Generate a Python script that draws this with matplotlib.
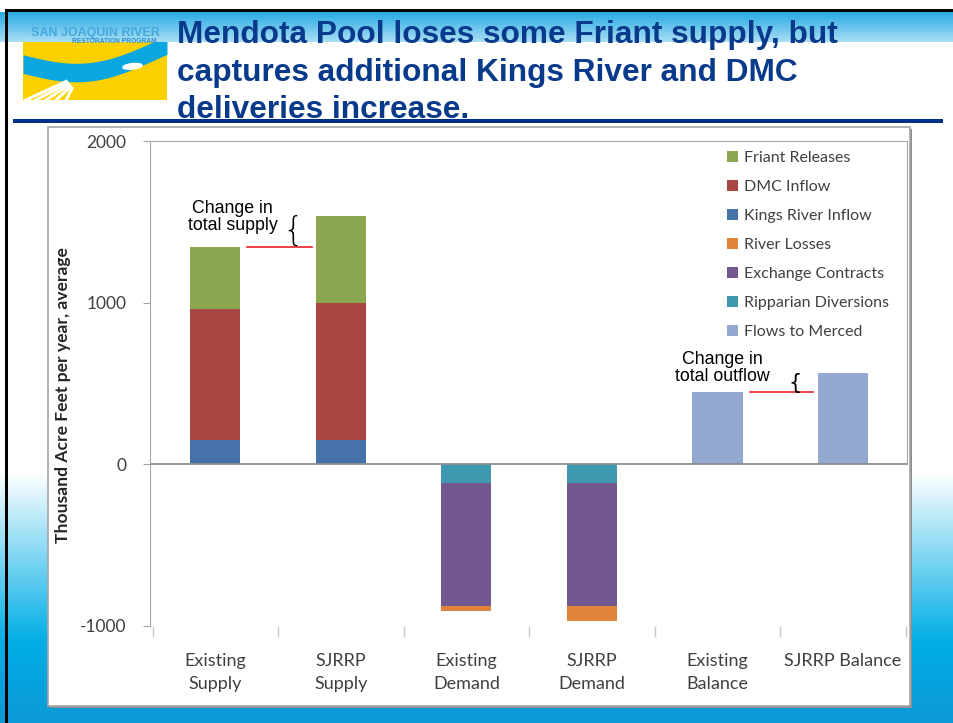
import numpy as np
import matplotlib
matplotlib.use("Agg")
import matplotlib.pyplot as plt
from matplotlib.patches import Rectangle, Ellipse

# data (thousand acre feet per year, average)
categories = ["Existing\nSupply", "SJRRP\nSupply", "Existing\nDemand",
              "SJRRP\nDemand", "Existing\nBalance", "SJRRP Balance"]
kings = [150, 150, 0, 0, 0, 0]
dmc = [810, 847, 0, 0, 0, 0]
friant = [384, 539, 0, 0, 0, 0]
ripparian = [0, 0, -117, -117, 0, 0]
exchange = [0, 0, -762, -762, 0, 0]
losses = [0, 0, -31, -93, 0, 0]
merced = [0, 0, 0, 0, 446, 563]

yticks = [-1000, 0, 1000, 2000]

colors = {
    "Friant Releases": "#8ba64f",
    "DMC Inflow": "#a94543",
    "Kings River Inflow": "#4572a8",
    "River Losses": "#e0843c",
    "Exchange Contracts": "#72588f",
    "Ripparian Diversions": "#3d98b0",
    "Flows to Merced": "#93a9d0",
}

W, H = 954, 723
fig = plt.figure(figsize=(W / 100, H / 100), dpi=100)

# slide background
img = np.ones((H, W, 3))
top_a = np.array([0.16, 0.67, 0.89])
top_b = np.array([0.66, 0.87, 0.96])
t = np.linspace(0, 1, 30)[:, None]
img[12:42, :, :] = (top_a * (1 - t) + top_b * t)[:, None, :]
blue = np.array([0.0, 0.68, 0.90])
t = np.linspace(0, 1, 170)[:, None]
img[472:642, :, :] = ((1 - t) * np.ones(3) + t * blue)[:, None, :]
dark = np.array([0.05, 0.60, 0.84])
t = np.linspace(0, 1, H - 642)[:, None]
img[642:, :, :] = ((1 - t) * blue + t * dark)[:, None, :]
img[9:12, 5:, :] = 0
img[9:, 5:8, :] = 0
bg = fig.add_axes([0, 0, 1, 1], zorder=-3)
bg.imshow(img, aspect="auto", extent=(0, W, H, 0))
bg.set_xlim(0, W)
bg.set_ylim(H, 0)
bg.axis("off")

# logo
logo = fig.add_axes([23 / W, 1 - 100 / H, 144 / W, 58 / H], zorder=-1)
logo.set_xlim(0, 1)
logo.set_ylim(0, 1)
logo.set_facecolor("#fdd100")
xx = np.linspace(0, 1, 100)
mid = 0.62 - 0.25 * np.sin(xx * np.pi * 1.1) + 0.25 * xx
logo.fill_between(xx, mid - 0.16, mid + 0.16, color="#0aa6e0", lw=0)
for k in range(5):
    logo.plot([0.02 + 0.07 * k, 0.3 + 0.01 * k], [0.0, 0.32 - 0.03 * k],
              color="white", lw=2.2)
logo.add_patch(Ellipse((0.76, 0.58), 0.14, 0.09, angle=25, color="white"))
logo.set_xticks([])
logo.set_yticks([])
for s in logo.spines.values():
    s.set_visible(False)
fig.text(95 / W, 1 - 36 / H, "SAN JOAQUIN RIVER", ha="center", va="baseline",
         fontsize=9, fontweight="bold", family="Liberation Sans", color="#45a8de")
fig.text(114 / W, 1 - 43 / H, "RESTORATION PROGRAM", ha="center", va="baseline",
         fontsize=4.8, fontweight="bold", family="Liberation Sans", color="#2e8fcf")

# title
title_lines = ["Mendota Pool loses some Friant supply, but",
               "captures additional Kings River and DMC",
               "deliveries increase."]
for i, line in enumerate(title_lines):
    fig.text(177 / W, 1 - (43 + 37.5 * i) / H, line, ha="left", va="baseline",
             fontsize=22.8, fontweight="bold", family="Liberation Sans",
             color="#083a8c")
fig.patches.append(Rectangle((13 / W, 1 - 123 / H), 930 / W, 4.5 / H,
                             transform=fig.transFigure, facecolor="#003087",
                             edgecolor="none", zorder=5))

# chart panel
fig.patches.append(Rectangle((50 / W, 1 - 708 / H), 862 / W, 579 / H,
                             transform=fig.transFigure, facecolor="#8c8c8c",
                             edgecolor="none", zorder=-2))
fig.patches.append(Rectangle((48 / W, 1 - 706 / H), 862 / W, 579 / H,
                             transform=fig.transFigure, facecolor="white",
                             edgecolor="#a6a6a6", lw=1.2, zorder=-2))

ax = fig.add_axes([150 / W, 1 - 625.5 / H, 757 / W, 484.5 / H])
ax.patch.set_alpha(0)
x = np.arange(len(categories))
bw = 0.4

kings_a = np.array(kings)
dmc_a = np.array(dmc)
rip_a = np.array(ripparian)
exc_a = np.array(exchange)

bars = {}
bars["Kings River Inflow"] = ax.bar(x, kings, bw, color=colors["Kings River Inflow"], lw=0)
bars["DMC Inflow"] = ax.bar(x, dmc, bw, bottom=kings_a, color=colors["DMC Inflow"], lw=0)
bars["Friant Releases"] = ax.bar(x, friant, bw, bottom=kings_a + dmc_a,
                                 color=colors["Friant Releases"], lw=0)
bars["Ripparian Diversions"] = ax.bar(x, ripparian, bw, color=colors["Ripparian Diversions"], lw=0)
bars["Exchange Contracts"] = ax.bar(x, exchange, bw, bottom=rip_a,
                                    color=colors["Exchange Contracts"], lw=0)
bars["River Losses"] = ax.bar(x, losses, bw, bottom=rip_a + exc_a,
                              color=colors["River Losses"], lw=0)
bars["Flows to Merced"] = ax.bar(x, merced, bw, color=colors["Flows to Merced"], lw=0)

ax.axhline(0, color="#8e8e8e", lw=1.3, zorder=1)
ax.set_xlim(-0.52, 5.51)
ax.set_ylim(-1000, 2000)

gray = "#a6a6a6"
ax.spines["bottom"].set_visible(False)
ax.spines["left"].set_color(gray)
ax.spines["top"].set_color(gray)
ax.spines["right"].set_color(gray)
ax.spines["right"].set_bounds(0, 2000)

ax.set_yticks(yticks)
ax.set_yticklabels([str(v) for v in yticks])
ax.tick_params(axis="y", direction="out", length=5, color=gray, pad=12,
               labelsize=12.5, labelcolor="#404040")
ax.set_xticks(x)
ax.set_xticklabels(categories, linespacing=1.6)
ax.set_xticks(np.arange(-0.5, 6.0, 1.0), minor=True)
ax.tick_params(axis="x", which="major", length=0, pad=19.5, labelsize=13,
               labelcolor="#404040")
ax.tick_params(axis="x", which="minor", length=8, color="#c8c8c8", width=1)
for lab in ax.get_xticklabels() + ax.get_yticklabels():
    lab.set_family("Lato")

fig.text(63 / W, 1 - 395 / H, "Thousand Acre Feet per year, average", rotation=90,
         ha="center", va="center", fontsize=12.6, fontweight="bold", family="Lato",
         color="#262626")

# legend
order = ["Friant Releases", "DMC Inflow", "Kings River Inflow", "River Losses",
         "Exchange Contracts", "Ripparian Diversions", "Flows to Merced"]
leg = ax.legend([bars[k] for k in order], order, loc="upper left",
                bbox_to_anchor=(0.762, 0.98), frameon=False, borderpad=0,
                borderaxespad=0, handlelength=0.7, handleheight=0.7,
                handletextpad=0.35, labelspacing=0.93,
                prop={"family": "Lato", "size": 11.5})
for txt in leg.get_texts():
    txt.set_color("#404040")

# annotations
sup0 = kings[0] + dmc[0] + friant[0]
sup1 = kings[1] + dmc[1] + friant[1]
ax.plot([0.25, 0.77], [sup0, sup0], color="#e8202a", lw=1.2)
ax.text(0.62, (sup0 + sup1) / 2, "{", ha="center", va="center", fontsize=24,
        family="DejaVu Sans", fontweight="light", color="black")
ax.text(0.14, sup1 + 100, "Change in\ntotal supply", ha="center", va="top",
        fontsize=12.8, family="Liberation Sans", linespacing=1.0, color="black")

ax.plot([4.26, 4.76], [merced[4], merced[4]], color="#e8202a", lw=1.2)
ax.text(4.62, (merced[4] + merced[5]) / 2, "{", ha="center", va="center", fontsize=15,
        family="DejaVu Sans", color="black")
ax.text(4.04, merced[5] + 138, "Change in\ntotal outflow", ha="center", va="top",
        fontsize=12.8, family="Liberation Sans", linespacing=1.0, color="black")

fig.savefig("out.png", dpi=100)
